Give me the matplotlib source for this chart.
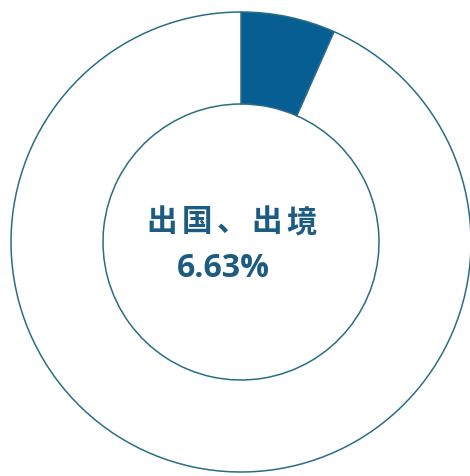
import matplotlib
matplotlib.use('Agg')
import matplotlib.pyplot as plt

labels = ['出国、出境', '其他']
shares = [6.63, 93.37]
colors = ['#075e92', 'white']
center_label = '出国、出境'
center_value = '6.63%'

fig = plt.figure(figsize=(4.70, 4.77), dpi=100)
ax = fig.add_axes([0, 0, 1, 1])

# donut, starting at 12 o'clock, going clockwise
ax.pie(shares, colors=colors, startangle=90, counterclock=False, radius=1,
       wedgeprops=dict(width=0.4, edgecolor='#2b6d86', linewidth=1.1))

# put the ring where it sits in the picture (radius ~230 px)
ax.set_xlim(-241 / 230, 229 / 230)
ax.set_ylim(-234 / 230, 243 / 230)
ax.set_aspect('auto')
ax.axis('off')

# label is set with a little letter spacing, so lay the characters out one by one
step = 0.152
n = len(center_label)
for i, ch in enumerate(center_label):
    ax.text(-0.04 + (i - (n - 1) / 2) * step, 0.09, ch, ha='center', va='center',
            fontsize=22, fontweight='bold', color='#1b5c80',
            family=['Noto Sans CJK SC', 'DejaVu Sans'])
ax.text(-0.075, -0.11, center_value, ha='center', va='center', fontsize=23,
        fontweight='bold', color='#1b5c80', family='Open Sans')

fig.savefig('out.png', dpi=100)
